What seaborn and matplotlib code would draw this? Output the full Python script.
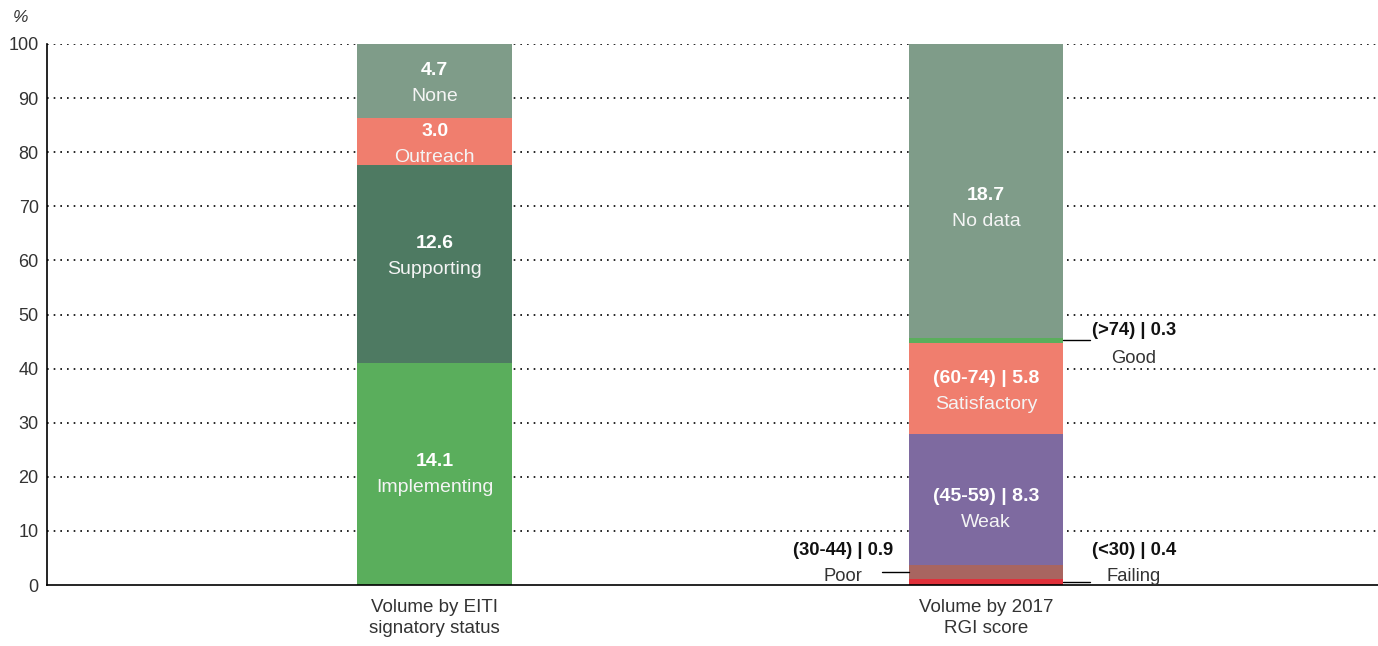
import numpy as np
import pandas as pd
import matplotlib
matplotlib.use("Agg")
import matplotlib.pyplot as plt
import seaborn as sns

# Volumes per group (absolute values; bars show share of each total in %)
eiti_labels = ["Implementing", "Supporting", "Outreach", "None"]
eiti_values = [14.1, 12.6, 3.0, 4.7]
eiti_colors = ["#5aae5c", "#4e7a62", "#f07e6e", "#7f9c89"]

rgi_labels = ["Failing", "Poor", "Weak", "Satisfactory", "Good", "No data"]
rgi_ranges = ["(<30)", "(30-44)", "(45-59)", "(60-74)", "(>74)", ""]
rgi_values = [0.4, 0.9, 8.3, 5.8, 0.3, 18.7]
rgi_colors = ["#e0303a", "#a86560", "#7e6aa0", "#f07e6e", "#5aae5c", "#7f9c89"]

categories = ["Volume by EITI\nsignatory status", "Volume by 2017\nRGI score"]
yticks = [0, 10, 20, 30, 40, 50, 60, 70, 80, 90, 100]

# vertical anchor (axis %) of each two-line label pair inside the bars
eiti_label_y = [20.4, 60.8, 81.4, 92.75]
rgi_label_y = {2: 14.0, 3: 35.8, 5: 69.65}

sns.set_theme(style="white")
plt.rcParams["font.family"] = ["Liberation Sans", "DejaVu Sans"]

fig = plt.figure(figsize=(13.78, 6.46), dpi=100)
ax = fig.add_axes([47 / 1378, 1 - 585 / 646, 1 - 47 / 1378, (585 - 44) / 646])

bar_w = 0.281
half_gap = 2.4
inner_fs = 14
call_fs = 13.2


def shares(vals):
    v = np.array(vals, dtype=float)
    return v / v.sum() * 100


def draw_stack(xi, vals, colors):
    pct = shares(vals)
    tops = np.cumsum(pct)
    bottoms = tops - pct
    # draw from the top segment down; each layer covers the ones above only up to its own top
    for k in range(len(vals) - 1, -1, -1):
        df = pd.DataFrame({"cat": categories, "val": [np.nan, np.nan]})
        df.loc[xi, "val"] = tops[k]
        sns.barplot(data=df, x="cat", y="val", color=colors[k], width=bar_w,
                    ax=ax, saturation=1, linewidth=0, order=categories)
    return bottoms, tops


# dotted grid lines behind the bars
for t in yticks[1:]:
    ax.axhline(t, color="black", lw=1.2, ls=(0, (1, 3)), zorder=0)

eb, et = draw_stack(0, eiti_values, eiti_colors)
rb, rt = draw_stack(1, rgi_values, rgi_colors)

ax.set_xlim(-0.703, 1.711)
ax.set_ylim(0, 100)
ax.set_yticks(yticks)
ax.set_yticklabels([str(t) for t in yticks], fontsize=13, color="#333333")
ax.set_xticks([0, 1])
ax.set_xticklabels(categories, fontsize=13.5, color="#333333", linespacing=1.3)
ax.set_xlabel("")
ax.set_ylabel("")
ax.tick_params(axis="y", length=0, pad=6)
ax.tick_params(axis="x", length=0, pad=10)
for s in ["top", "right"]:
    ax.spines[s].set_visible(False)
for s in ["left", "bottom"]:
    ax.spines[s].set_color("black")
    ax.spines[s].set_linewidth(1.2)
ax.set_axisbelow(True)

fig.text(13 / 1378, 1 - 18 / 646, "%", fontsize=12.5, style="italic",
         color="#333333", ha="left", va="center")

# labels inside the EITI bar
for k, lab in enumerate(eiti_labels):
    y = eiti_label_y[k]
    ax.text(0, y + half_gap, f"{eiti_values[k]:.1f}", ha="center", va="center",
            fontsize=inner_fs, fontweight="bold", color="white")
    ax.text(0, y - half_gap, lab, ha="center", va="center", fontsize=inner_fs,
            color="#f4f4f4")

# labels inside the RGI bar (large segments)
for k, y in rgi_label_y.items():
    head = f"{rgi_values[k]:.1f}" if not rgi_ranges[k] else f"{rgi_ranges[k]} | {rgi_values[k]:.1f}"
    ax.text(1, y + half_gap, head, ha="center", va="center",
            fontsize=inner_fs, fontweight="bold", color="white")
    ax.text(1, y - half_gap, rgi_labels[k], ha="center", va="center",
            fontsize=inner_fs, color="#f4f4f4")

# callouts for the thin segments
right_edge = 1 + bar_w / 2
left_edge = 1 - bar_w / 2
callouts = [
    # (index, side, line end x, bold text x, name x, bold y, name y)
    (4, "right", 1.188, 1.192, 1.268, 47.0, 41.8),
    (0, "right", 1.188, 1.192, 1.268, 6.4, 1.6),
    (1, "left", 0.811, 0.831, 0.740, 6.4, 1.6),
]
for k, side, lx, tx, nx, by, ny in callouts:
    ly = (rb[k] + rt[k]) / 2
    head = f"{rgi_ranges[k]} | {rgi_values[k]:.1f}"
    if side == "right":
        ax.plot([right_edge, lx], [ly, ly], color="black", lw=1, clip_on=False)
        ax.text(tx, by, head, ha="left", va="center", fontsize=call_fs,
                fontweight="bold", color="#111111")
    else:
        ax.plot([left_edge, lx], [ly, ly], color="black", lw=1, clip_on=False)
        ax.text(tx, by, head, ha="right", va="center", fontsize=call_fs,
                fontweight="bold", color="#111111")
    ax.text(nx, ny, rgi_labels[k], ha="center", va="center",
            fontsize=call_fs, color="#333333")

fig.savefig("out.png", dpi=100)
